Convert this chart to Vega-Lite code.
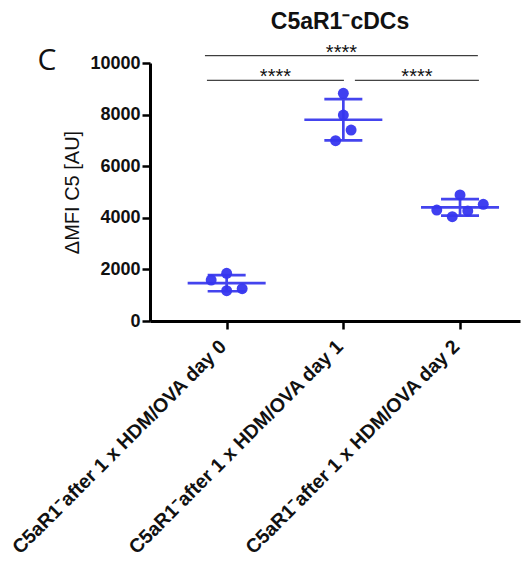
{
  "$schema": "https://vega.github.io/schema/vega-lite/v6.json",
  "autosize": "none",
  "width": 370,
  "height": 258,
  "padding": {"left": 150, "top": 63, "right": 10, "bottom": 243},
  "background": "white",
  "title": {"text": "C5aR1⁻cDCs", "font": "Liberation Sans", "fontSize": 23, "fontWeight": "bold", "color": "#111", "offset": 9, "frame": "group", "dx": 5},
  "datasets": {
    "pts": [
      {"group": 0, "value": 1589, "jitter": -2},
      {"group": 0, "value": 1849, "jitter": 0},
      {"group": 0, "value": 1174, "jitter": 0},
      {"group": 0, "value": 1252, "jitter": 2},
      {"group": 1, "value": 8826, "jitter": 0},
      {"group": 1, "value": 7984, "jitter": 0},
      {"group": 1, "value": 7403, "jitter": 1},
      {"group": 1, "value": 6988, "jitter": -1},
      {"group": 2, "value": 4884, "jitter": 0},
      {"group": 2, "value": 4302, "jitter": -3},
      {"group": 2, "value": 4043, "jitter": -1},
      {"group": 2, "value": 4264, "jitter": 1},
      {"group": 2, "value": 4522, "jitter": 3}
    ],
    "brackets": [
      {"from": -0.186, "to": 2.153, "level": 10283, "label": "****"},
      {"from": -0.169, "to": 1.005, "level": 9330, "label": "****"},
      {"from": 1.099, "to": 2.162, "level": 9330, "label": "****"}
    ],
    "panel": [{"label": "C", "gx": -1.54, "gy": 10078}]
  },
  "layer": [
    {
      "data": {"name": "pts"},
      "transform": [
        {"aggregate": [{"op": "mean", "field": "value", "as": "mean"}, {"op": "stdev", "field": "value", "as": "sd"}], "groupby": ["group"]},
        {"calculate": "datum.mean - datum.sd", "as": "lo"},
        {"calculate": "datum.mean + datum.sd", "as": "hi"}
      ],
      "layer": [
        {"mark": {"type": "rule", "color": "#4444ee", "strokeWidth": 2.7}, "encoding": {"y": {"field": "lo", "type": "quantitative"}, "y2": {"field": "hi"}}},
        {"mark": {"type": "tick", "orient": "horizontal", "color": "#4444ee", "size": 78, "thickness": 2.7, "opacity": 1}, "encoding": {"y": {"field": "mean", "type": "quantitative"}}},
        {"mark": {"type": "tick", "orient": "horizontal", "color": "#4444ee", "size": 38, "thickness": 2.7, "opacity": 1}, "encoding": {"y": {"field": "lo", "type": "quantitative"}}},
        {"mark": {"type": "tick", "orient": "horizontal", "color": "#4444ee", "size": 38, "thickness": 2.7, "opacity": 1}, "encoding": {"y": {"field": "hi", "type": "quantitative"}}}
      ],
      "encoding": {
        "x": {"field": "group", "type": "quantitative"}
      }
    },
    {
      "data": {"name": "pts"},
      "transform": [{"calculate": "datum.group + datum.jitter * 0.0664", "as": "xpos"}],
      "mark": {"type": "circle", "color": "#3636ef", "size": 120, "opacity": 0.95},
      "encoding": {
        "x": {"field": "xpos", "type": "quantitative"},
        "y": {"field": "value", "type": "quantitative"}
      }
    },
    {
      "data": {"name": "brackets"},
      "mark": {"type": "rule", "color": "#111", "strokeWidth": 1},
      "encoding": {
        "x": {"field": "from", "type": "quantitative"},
        "x2": {"field": "to"},
        "y": {"field": "level", "type": "quantitative"}
      }
    },
    {
      "data": {"name": "brackets"},
      "transform": [{"calculate": "(datum.from + datum.to) / 2", "as": "mid"}],
      "mark": {"type": "text", "font": "Liberation Sans", "fontSize": 20, "baseline": "alphabetic", "dy": 3, "color": "#111"},
      "encoding": {
        "x": {"field": "mid", "type": "quantitative"},
        "y": {"field": "level", "type": "quantitative"},
        "text": {"field": "label"}
      }
    },
    {
      "data": {"name": "panel"},
      "mark": {"type": "text", "font": "Open Sans", "fontSize": 30, "baseline": "middle", "align": "center", "color": "#111"},
      "encoding": {
        "x": {"field": "gx", "type": "quantitative"},
        "y": {"field": "gy", "type": "quantitative"},
        "text": {"field": "label"}
      }
    }
  ],
  "encoding": {
    "x": {
      "type": "quantitative",
      "scale": {"domain": [-0.657, 2.514], "nice": false, "zero": false},
      "axis": {
        "title": null,
        "values": [0, 1, 2],
        "labelExpr": "'C5aR1⁻after 1 x HDM/OVA day ' + datum.value",
        "labelAngle": -45,
        "labelAlign": "right",
        "labelBaseline": "middle",
        "labelFont": "Liberation Sans",
        "labelFontSize": 19.5,
        "labelFontWeight": "bold",
        "labelColor": "#111",
        "labelPadding": 14,
        "labelOffset": -4,
        "labelLimit": 0,
        "labelOverlap": false,
        "labelFlush": false,
        "grid": false,
        "domainColor": "#000",
        "domainWidth": 3,
        "tickColor": "#000",
        "tickWidth": 2.5,
        "tickSize": 8
      }
    },
    "y": {
      "type": "quantitative",
      "scale": {"domain": [0, 10000], "nice": false},
      "axis": {
        "title": "ΔMFI C5 [AU]",
        "titleFont": "Liberation Sans",
        "titleFontSize": 20,
        "titleFontWeight": "normal",
        "titleColor": "#111",
        "titlePadding": 7,
        "values": [0, 2000, 4000, 6000, 8000, 10000],
        "format": "d",
        "labelFont": "Liberation Sans",
        "labelFontSize": 18,
        "labelFontWeight": "bold",
        "labelColor": "#111",
        "labelPadding": 2,
        "grid": false,
        "domainColor": "#000",
        "domainWidth": 3,
        "tickColor": "#000",
        "tickWidth": 2.5,
        "tickSize": 8
      }
    }
  },
  "config": {
    "view": {"stroke": null},
    "font": "Liberation Sans"
  }
}
